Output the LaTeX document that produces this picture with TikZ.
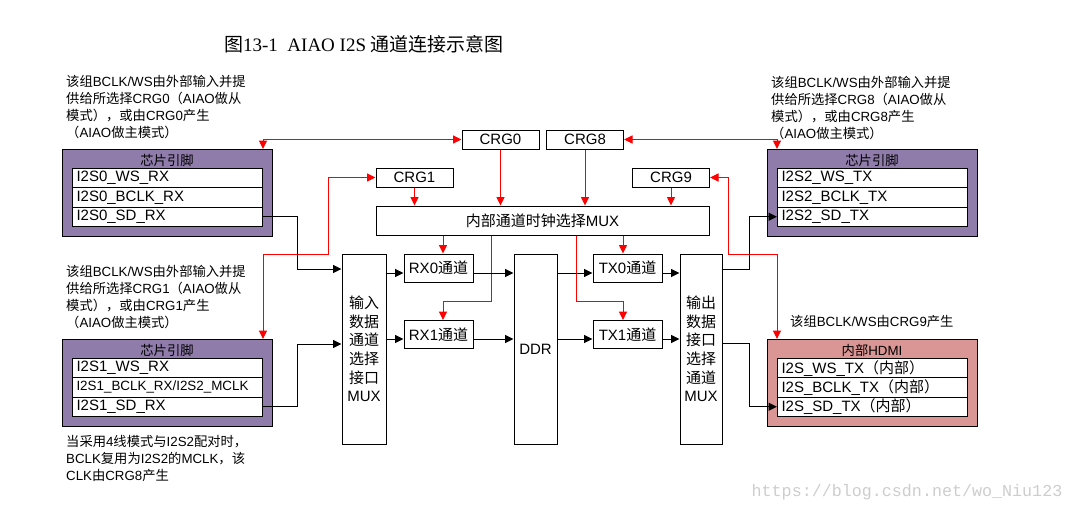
\documentclass[tikz,border=0pt]{standalone}
\usepackage{fontspec}
\setmainfont{Liberation Sans}
\newfontfamily\zhfont{Noto Sans CJK SC}
\newfontfamily\capfont{Liberation Serif}
\newfontfamily\wmfont{Liberation Mono}
\newcommand\zh[1]{{\zhfont #1}}
\usetikzlibrary{arrows.meta}
\definecolor{pinpurple}{RGB}{143,124,170}
\definecolor{hdmired}{RGB}{217,150,148}
\definecolor{wmgray}{RGB}{205,205,205}

\begin{document}
\begin{tikzpicture}[
    x=1pt, y=-1pt,
    >={Triangle[length=8.5pt,width=8pt]},
    chip/.style={draw, line width=1.3pt, anchor=north west, minimum width=210pt,
                 minimum height=87pt, inner sep=0pt},
    pin/.style={draw, fill=white, line width=1pt, anchor=north west,
                minimum width=190pt, minimum height=19.3pt, text width=182pt,
                inner xsep=4pt, inner ysep=0pt, align=left,
                font=\fontsize{15}{15}\selectfont},
    blk/.style={draw, fill=white, line width=1pt, inner sep=0pt, align=center,
                font=\fontsize{15}{18.6}\selectfont},
    head/.style={inner sep=0pt, font=\fontsize{13.3}{16}\selectfont},
    note/.style={anchor=north west, align=left, inner sep=0pt,
                 font=\fontsize{13.3}{17}\selectfont},
    clk/.style={->, red, line width=1pt},
    dat/.style={->, black, line width=1pt}
]
\useasboundingbox (0,0) rectangle (1073,512);

%% Titolo
\node[font=\capfont\fontsize{19}{19}\selectfont] (title) at (364,44)
      {\zh{图}13-1\ \ AIAO I2S \zh{通道连接示意图}};

%% Pin del chip, lato RX
\node[chip, fill=pinpurple] (chip0) at (62,149) {};
\node[head] (h0) at (167,160) {\zh{芯片引脚}};
\foreach \n/\t [count=\i from 0] in {ws/I2S0\_WS\_RX, bclk/I2S0\_BCLK\_RX, sd/I2S0\_SD\_RX}
  \node[pin] (r0\n) at (72,{168+19.3*\i}) {\t};

\node[chip, fill=pinpurple] (chip1) at (62,339) {};
\node[head] (h1) at (167,350) {\zh{芯片引脚}};
\foreach \n/\t [count=\i from 0] in {ws/I2S1\_WS\_RX, bclk/{\fontsize{13.4}{15}\selectfont I2S1\_BCLK\_RX/I2S2\_MCLK}, sd/I2S1\_SD\_RX}
  \node[pin] (r1\n) at (72,{358+19.3*\i}) {\t};

%% Pin del chip, lato TX
\node[chip, fill=pinpurple] (chip2) at (767,149) {};
\node[head] (h2) at (872,160) {\zh{芯片引脚}};
\foreach \n/\t [count=\i from 0] in {ws/I2S2\_WS\_TX, bclk/I2S2\_BCLK\_TX, sd/I2S2\_SD\_TX}
  \node[pin] (r2\n) at (777,{168+19.3*\i}) {\t};

\node[chip, fill=hdmired] (hdmi) at (767,339) {};
\node[head] (hh) at (872,350) {\zh{内部}HDMI};
\foreach \n/\t [count=\i from 0] in {ws/I2S\_WS\_TX\zh{（内部）}, bclk/I2S\_BCLK\_TX\zh{（内部）}, sd/I2S\_SD\_TX\zh{（内部）}}
  \node[pin] (h\n) at (777,{358+19.3*\i}) {\t};

%% Note
\node[note] (nA) at (66,75.5)
      {\zh{该组}BCLK/WS\zh{由外部输入并提}\\
       \zh{供给所选择}CRG0\zh{（}AIAO\zh{做从}\\
       \zh{模式），或由}CRG0\zh{产生}\\
       \zh{（}AIAO\zh{做主模式）}};
\node[note] (nB) at (66,265.5)
      {\zh{该组}BCLK/WS\zh{由外部输入并提}\\
       \zh{供给所选择}CRG1\zh{（}AIAO\zh{做从}\\
       \zh{模式），或由}CRG1\zh{产生}\\
       \zh{（}AIAO\zh{做主模式）}};
\node[note] (nC) at (66,435.5)
      {\zh{当采用}4\zh{线模式与}I2S2\zh{配对时，}\\
       BCLK\zh{复用为}I2S2\zh{的}MCLK\zh{，该}\\
       CLK\zh{由}CRG8\zh{产生}};
\node[note] (nD) at (771,76.5)
      {\zh{该组}BCLK/WS\zh{由外部输入并提}\\
       \zh{供给所选择}CRG8\zh{（}AIAO\zh{做从}\\
       \zh{模式），或由}CRG8\zh{产生}\\
       \zh{（}AIAO\zh{做主模式）}};
\node[note, anchor=west] (nE) at (790,321) {\zh{该组}BCLK/WS\zh{由}CRG9\zh{产生}};

%% Blocchi centrali
\node[blk, minimum width=77pt, minimum height=19pt] (crg0) at (500.5,139.5) {CRG0};
\node[blk, minimum width=77pt, minimum height=19pt] (crg8) at (585,139.5) {CRG8};
\node[blk, minimum width=77pt, minimum height=19pt] (crg1) at (414.5,177.5) {CRG1};
\node[blk, minimum width=77pt, minimum height=19pt] (crg9) at (671,177.5) {CRG9};
\node[blk, minimum width=333pt, minimum height=29pt] (clkmux) at (542.5,220.5)
      {\zh{内部通道时钟选择}MUX};

\node[blk, minimum width=44pt, minimum height=190pt] (inmux) at (364,349)
      {\zh{输入}\\\zh{数据}\\\zh{通道}\\\zh{选择}\\\zh{接口}\\MUX};
\node[blk, minimum width=69pt, minimum height=28pt] (rx0) at (438.5,268) {RX0\zh{通道}};
\node[blk, minimum width=69pt, minimum height=28pt] (rx1) at (438.5,334.5) {RX1\zh{通道}};
\node[blk, minimum width=43pt, minimum height=190pt] (ddr) at (535.5,349) {DDR};
\node[blk, minimum width=69pt, minimum height=28pt] (tx0) at (627.5,268) {TX0\zh{通道}};
\node[blk, minimum width=69pt, minimum height=28pt] (tx1) at (627.5,334.5) {TX1\zh{通道}};
\node[blk, minimum width=42pt, minimum height=190pt] (outmux) at (701,349)
      {\zh{输出}\\\zh{数据}\\\zh{接口}\\\zh{选择}\\\zh{通道}\\MUX};

%% Punti di piega
\coordinate (lane0) at (0,273);
\coordinate (lane1) at (0,339);
\coordinate (lrx) at (443,301);
\coordinate (drx) at (491,301);
\coordinate (ltx) at (623,301);
\coordinate (dtx) at (576,301);
\coordinate (k1) at (328,254);
\coordinate (k9) at (728,254);
\coordinate (ki0) at (297,269);
\coordinate (ki1) at (297,344);
\coordinate (ko0) at (749,269);
\coordinate (ko1) at (749,343);

%% Clock (rosso)
\draw[clk] (crg0) -- (crg0 |- clkmux.north);
\draw[clk] (crg8) -- (crg8 |- clkmux.north);
\draw[clk] (crg1) -- (crg1 |- clkmux.north);
\draw[clk] (crg9) -- (crg9 |- clkmux.north);
\draw[clk] (clkmux.south -| lrx) -- (rx0.north -| lrx);
\draw[clk] (clkmux.south -| drx) -- (drx) -| (rx1.north -| lrx);
\draw[clk] (clkmux.south -| ltx) -- (tx0.north -| ltx);
\draw[clk] (clkmux.south -| dtx) -- (dtx) -| (tx1.north -| ltx);
\draw[clk, <->] (crg0.west) -| (r0ws.east |- chip0.north);
\draw[clk, <->] (crg1.west) -| (k1) -| (r1ws.east |- chip1.north);
\draw[clk, <->] (crg8.east) -| (r2ws.west |- chip2.north);
\draw[clk, <->] (crg9.east) -| (k9) -| (hws.west |- hdmi.north);

%% Dati (nero)
\draw[dat] (r0sd.east) -| (ki0) -- (inmux.west |- ki0);
\draw[dat] (r1sd.east) -| (ki1) -- (inmux.west |- ki1);
\foreach \a/\b in {inmux/rx0, rx0/ddr, ddr/tx0, tx0/outmux}
  \draw[dat] (\a.east |- lane0) -- (\b.west |- lane0);
\foreach \a/\b in {inmux/rx1, rx1/ddr, ddr/tx1, tx1/outmux}
  \draw[dat] (\a.east |- lane1) -- (\b.west |- lane1);
\draw[dat] (outmux.east |- ko0) -- (ko0) |- (r2sd.west);
\draw[dat] (outmux.east |- ko1) -- (ko1) |- (hsd.west);

\node[font=\wmfont\fontsize{16.7}{17}\selectfont, text=wmgray] (wm) at (907,492)
      {https://blog.csdn.net/wo\_Niu123};

\end{tikzpicture}
\end{document}
